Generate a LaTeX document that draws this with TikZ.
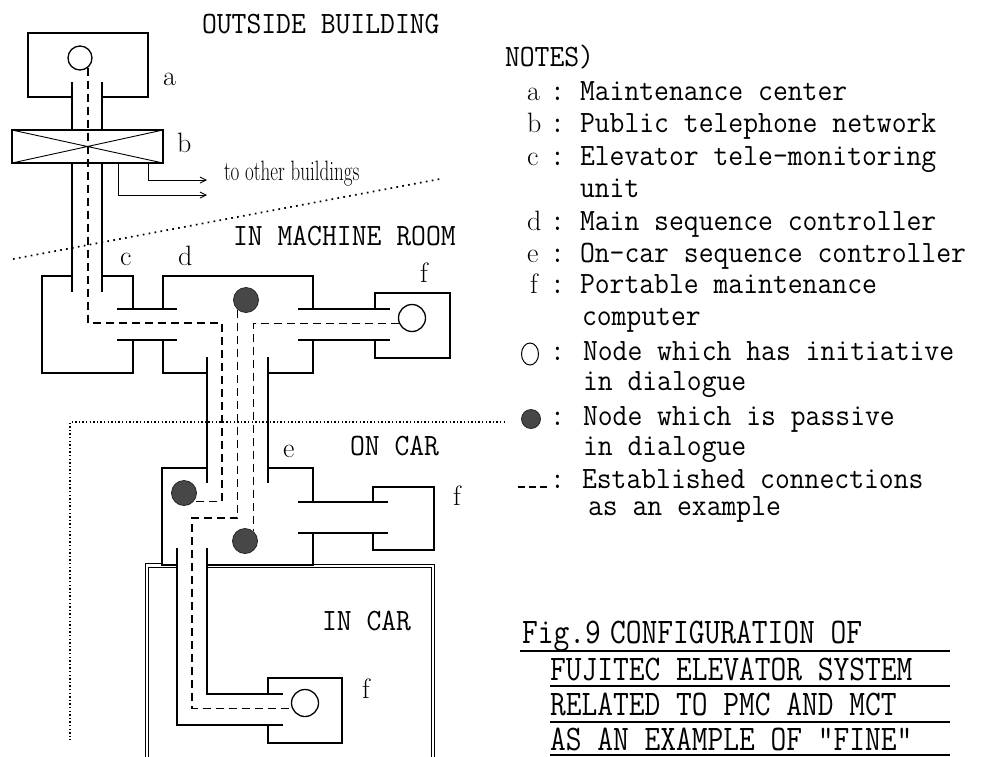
\documentclass[tikz,border=0pt]{standalone}
\usepackage{graphicx}
\usetikzlibrary{arrows.meta,shapes.geometric}
\newcommand\mtxt[1]{\scalebox{0.93}[1]{\fontsize{31}{31}\selectfont\ttfamily #1}}
\newcommand\captxt[1]{\scalebox{0.85}[1]{\fontsize{36}{36}\selectfont\ttfamily #1}}
\newcommand\ltr[1]{{\fontsize{28}{28}\selectfont\rmfamily #1}}
\newcommand\smalltxt[1]{\scalebox{0.68}[1]{\fontsize{28}{28}\selectfont\rmfamily #1}}
\tikzset{
  wire/.style={line width=1.3pt},
  thinwire/.style={line width=0.9pt},
  conn/.style={line width=1.3pt, dash pattern=on 8pt off 5pt},
  bnd/.style={line width=1.7pt, dash pattern=on 1.7pt off 4.3pt},
  bndb/.style={line width=1.4pt, dash pattern=on 1.4pt off 2.2pt},
  lbl/.style={inner sep=0pt, outer sep=0pt, anchor=base west},
  initnode/.style={circle, draw, line width=1.3pt, minimum size=26pt, inner sep=0pt},
  passnode/.style={circle, fill=black!72, draw=black!85, line width=0.8pt, minimum size=25pt, inner sep=0pt},
  arr/.style={-{Straight Barb[length=6pt,width=6pt]}},
}
\begin{document}
\begin{tikzpicture}[x=1pt,y=-1pt]
\useasboundingbox (0,0) rectangle (983,756);

% ---------- boxes and links ----------
% a
\draw[wire] (72,97) -- (28,97) -- (28,33) -- (148,33) -- (148,97) -- (102,97);
\draw[wire] (72,82) -- (72,130) (102,82) -- (102,130);
% b
\draw[wire] (12,130) rectangle (163,163);
\draw[thinwire] (12,130) -- (163,163) (12,163) -- (163,130);
\draw[wire] (72,163) -- (72,292) (102,163) -- (102,292);
\draw[thinwire,arr] (148,163) |- (207,180);
\draw[thinwire,arr] (118,163) |- (207,195);
% c
\draw[wire] (72,276) -- (42,276) -- (42,373) -- (133,373) -- (133,340)
            (133,309) -- (133,276) -- (102,276);
\draw[wire] (117,309) -- (177,309) (117,340) -- (177,340);
% d
\draw[wire] (163,309) -- (163,276) -- (313,276) -- (313,309)
            (313,340) -- (313,373) -- (268,373)
            (207,373) -- (163,373) -- (163,340);
\draw[wire] (298,309) -- (390,309) (298,340) -- (390,340);
% f (machine room)
\draw[wire] (375,309) -- (375,293) -- (450,293) -- (450,358) -- (375,358) -- (375,340);
% link d-e
\draw[wire] (207,357) -- (207,483) (268,357) -- (268,483);
% e
\draw[wire] (207,468) -- (162,468) -- (162,565) -- (177,565)
            (207,565) -- (313,565) -- (313,533)
            (313,502) -- (313,468) -- (268,468);
\draw[wire] (298,502) -- (388,502) (298,533) -- (388,533);
% f (on car)
\draw[wire] (373,502) -- (373,487) -- (434,487) -- (434,550) -- (373,550) -- (373,533);
% in-car link
\draw[wire] (177,548) -- (177,725) -- (283,725) (207,548) -- (207,694) -- (283,694);
% f (in car)
\draw[wire] (268,694) -- (268,678) -- (342,678) -- (342,743) -- (268,743) -- (268,725);
% in-car enclosure (double line)
\draw[thinwire] (145,760) -- (145,563) -- (162,563) (207,564) -- (434,564) -- (434,760);
\draw[thinwire] (148,760) -- (148,567) -- (177,567) (207,567.5) -- (431,567.5) -- (431,760);

% ---------- boundaries ----------
\draw[bnd] (13,259) -- (440,179);
\draw[bndb] (505,422) -- (70,422) -- (70,740);

% ---------- dialogue nodes ----------
\node[initnode, minimum size=24pt] (ca) at (80,58) {};
\node[passnode] (cd) at (246,300) {};
\node[initnode, minimum size=27pt] (cf1) at (412,318) {};
\node[passnode] (ce1) at (184,493) {};
\node[passnode] (ce2) at (245,541) {};
\node[initnode, minimum size=27pt] (cf3) at (305,703) {};

% ---------- established connections ----------
\coordinate (j1) at (222,323);
\coordinate (j2) at (192,518);
\draw[conn] (ca.-50) -- (ca.-50 |- j1) -- (j1) -- (j1 |- ce1.-40) -- (ce1.-40);
\draw[conn] (cd.-130) -- (cd.-130 |- j2) -- (j2) -- (j2 |- cf3.-157) -- (cf3.-157);
\draw[conn] (cf1.-158) -- (ce2.50 |- cf1.-158) -- (ce2.50);

% ---------- diagram labels ----------
\node[lbl] (la) at (163,85) {\ltr{a}};
\node[lbl] (lb) at (177,152) {\ltr{b}};
\node[lbl] (lc) at (120,265) {\ltr{c}};
\node[lbl] (ld) at (178,265) {\ltr{d}};
\node[lbl] (lf1) at (420,282) {\ltr{f}};
\node[lbl] (le) at (283,457) {\ltr{e}};
\node[lbl] (lf2) at (453,505) {\ltr{f}};
\node[lbl] (lf3) at (362,698) {\ltr{f}};
\node[lbl] (tob) at (224,180) {\smalltxt{to other buildings}};

\node[lbl] (outside) at (202,33) {\mtxt{OUTSIDE BUILDING}};
\node[lbl] (machine) at (233,245) {\mtxt{IN MACHINE ROOM}};
\node[lbl] (oncar) at (350,455) {\mtxt{ON CAR}};
\node[lbl] (incar) at (322,630) {\mtxt{IN CAR}};

% ---------- notes ----------
\node[lbl] (notes) at (505,66) {\mtxt{NOTES)}};
\node[lbl] (na) at (527,100) {\ltr{a}};
\node[lbl] (nac) at (550,100) {\mtxt{:}};
\node[lbl] (nat) at (580,100) {\mtxt{Maintenance center}};
\node[lbl] (nb) at (527,132) {\ltr{b}};
\node[lbl] (nbc) at (550,132) {\mtxt{:}};
\node[lbl] (nbt) at (580,132) {\mtxt{Public telephone network}};
\node[lbl] (nc) at (527,165) {\ltr{c}};
\node[lbl] (ncc) at (550,165) {\mtxt{:}};
\node[lbl] (nct) at (580,165) {\mtxt{Elevator tele-monitoring}};
\node[lbl] (nct2) at (580,197) {\mtxt{unit}};
\node[lbl] (nd) at (527,230) {\ltr{d}};
\node[lbl] (ndc) at (550,230) {\mtxt{:}};
\node[lbl] (ndt) at (580,230) {\mtxt{Main sequence controller}};
\node[lbl] (ne) at (527,262) {\ltr{e}};
\node[lbl] (nec) at (550,262) {\mtxt{:}};
\node[lbl] (net) at (580,262) {\mtxt{On-car sequence controller}};
\node[lbl] (nf) at (530,293) {\ltr{f}};
\node[lbl] (nfc) at (550,293) {\mtxt{:}};
\node[lbl] (nft) at (580,293) {\mtxt{Portable maintenance}};
\node[lbl] (nft2) at (582,325) {\mtxt{computer}};

\node[draw, ellipse, line width=1pt, minimum width=17pt, minimum height=22pt, inner sep=0pt] (sym1) at (530,354) {};
\node[lbl] (s1c) at (550,360) {\mtxt{:}};
\node[lbl] (s1t) at (583,360) {\mtxt{Node which has initiative}};
\node[lbl] (s1t2) at (583,390) {\mtxt{in dialogue}};
\node[passnode, minimum size=19pt] (sym2) at (531,419) {};
\node[lbl] (s2c) at (550,425) {\mtxt{:}};
\node[lbl] (s2t) at (583,425) {\mtxt{Node which is passive}};
\node[lbl] (s2t2) at (583,455) {\mtxt{in dialogue}};
\coordinate (s3a) at (518,487);
\coordinate (s3b) at (548,487);
\draw[line width=1.2pt, dash pattern=on 7pt off 4pt] (s3a) -- (s3b);
\node[lbl] (s3c) at (550,488) {\mtxt{:}};
\node[lbl] (s3t) at (582,488) {\mtxt{Established connections}};
\node[lbl] (s3t2) at (588,515) {\mtxt{as an example}};

% ---------- caption ----------
\node[lbl] (cap0) at (522,643) {\captxt{Fig.9}};
\node[lbl] (cap1) at (610,643) {\captxt{CONFIGURATION OF}};
\node[lbl] (cap2) at (550,680) {\captxt{FUJITEC ELEVATOR SYSTEM}};
\node[lbl] (cap3) at (550,715) {\captxt{RELATED TO PMC AND MCT}};
\node[lbl] (cap4) at (550,750) {\captxt{AS AN EXAMPLE OF "FINE"}};
\draw[wire] (520,651) -- (950,651);
\draw[wire] (550,686) -- (950,686);
\draw[wire] (550,722) -- (950,722);
\draw[wire] (550,755) -- (950,755);
\end{tikzpicture}
\end{document}
